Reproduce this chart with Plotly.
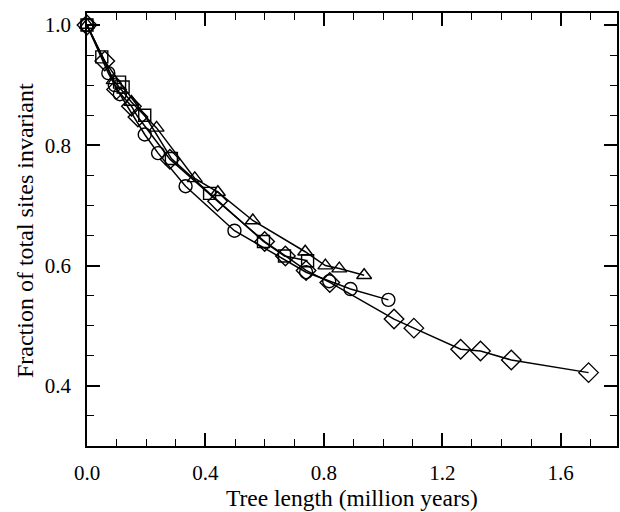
import plotly.graph_objects as go

# Data (tree length in million years, fraction invariant)
circle_x = [0.0, 0.072, 0.094, 0.111, 0.195, 0.24, 0.333, 0.498, 0.74, 0.818, 0.89, 1.018]
circle_y = [1.0, 0.92, 0.90, 0.885, 0.818, 0.787, 0.732, 0.658, 0.589, 0.574, 0.561, 0.543]

square_x = [0.0, 0.05, 0.11, 0.122, 0.195, 0.285, 0.414, 0.596, 0.667, 0.745]
square_y = [1.0, 0.947, 0.905, 0.897, 0.85, 0.778, 0.72, 0.64, 0.616, 0.608]

triangle_x = [0.0, 0.09, 0.15, 0.235, 0.364, 0.442, 0.56, 0.737, 0.805, 0.852, 0.936]
triangle_y = [1.0, 0.908, 0.872, 0.829, 0.745, 0.722, 0.675, 0.623, 0.60, 0.595, 0.584]

diamond_x = [0.0, 0.06, 0.10, 0.15, 0.172, 0.28, 0.441, 0.60, 0.67, 0.74, 0.82,
             1.037, 1.104, 1.262, 1.329, 1.433, 1.694]
diamond_y = [1.0, 0.94, 0.893, 0.865, 0.847, 0.777, 0.707, 0.64, 0.616, 0.592, 0.572,
             0.511, 0.496, 0.461, 0.458, 0.443, 0.422]

x_ticks = [0.0, 0.4, 0.8, 1.2, 1.6]
x_tick_labels = ["0.0", "0.4", "0.8", "1.2", "1.6"]
y_ticks = [0.4, 0.6, 0.8, 1.0]
y_tick_labels = ["0.4", "0.6", "0.8", "1.0"]

x_title = "Tree length (million years)"
y_title = "Fraction of total sites invariant"

FONT = "Liberation Serif"

fig = go.Figure()

def add(xs, ys, symbol, size):
    fig.add_trace(go.Scatter(
        x=xs, y=ys, mode="lines+markers",
        line=dict(color="black", width=1.5),
        marker=dict(symbol=symbol, size=size, color="black",
                    line=dict(color="black", width=1.4)),
        showlegend=False, cliponaxis=False,
    ))

add(diamond_x, diamond_y, "diamond-open", 15)
add(square_x, square_y, "square-open", 12)
add(triangle_x, triangle_y, "triangle-up-open", 13)
add(circle_x, circle_y, "circle-open", 13)

axis_common = dict(
    showline=True, linecolor="black", linewidth=1.8, mirror="ticks",
    ticks="inside", ticklen=13, tickwidth=1.6, tickcolor="black",
    showgrid=False, zeroline=False,
    tickfont=dict(family=FONT, size=21, color="black"),
)

fig.update_xaxes(
    range=[0, 1.79], tickmode="array", tickvals=x_ticks, ticktext=x_tick_labels,
    minor=dict(dtick=0.1, tick0=0, ticks="inside", ticklen=7, tickwidth=1.4,
               tickcolor="black", showgrid=False),
    ticklabelstandoff=7,
    **axis_common,
)
fig.update_yaxes(
    range=[0.3, 1.02], tickmode="array", tickvals=y_ticks, ticktext=y_tick_labels,
    minor=dict(dtick=0.05, tick0=0, ticks="inside", ticklen=7, tickwidth=1.4,
               tickcolor="black", showgrid=False),
    ticklabelstandoff=10,
    **axis_common,
)

fig.add_annotation(
    text=x_title, xref="paper", yref="paper", x=0.5, y=-0.121,
    xanchor="center", yanchor="middle", showarrow=False, borderpad=0,
    font=dict(family=FONT, size=23.5, color="black"),
)
fig.add_annotation(
    text=y_title, xref="paper", yref="paper", x=-0.1165, y=0.497,
    xanchor="center", yanchor="middle", showarrow=False, textangle=-90, borderpad=0,
    font=dict(family=FONT, size=24, color="black"),
)

fig.update_layout(
    width=620, height=512,
    margin=dict(l=87, r=1, t=13, b=66),
    paper_bgcolor="white", plot_bgcolor="white",
)

fig.write_html("out.html")
